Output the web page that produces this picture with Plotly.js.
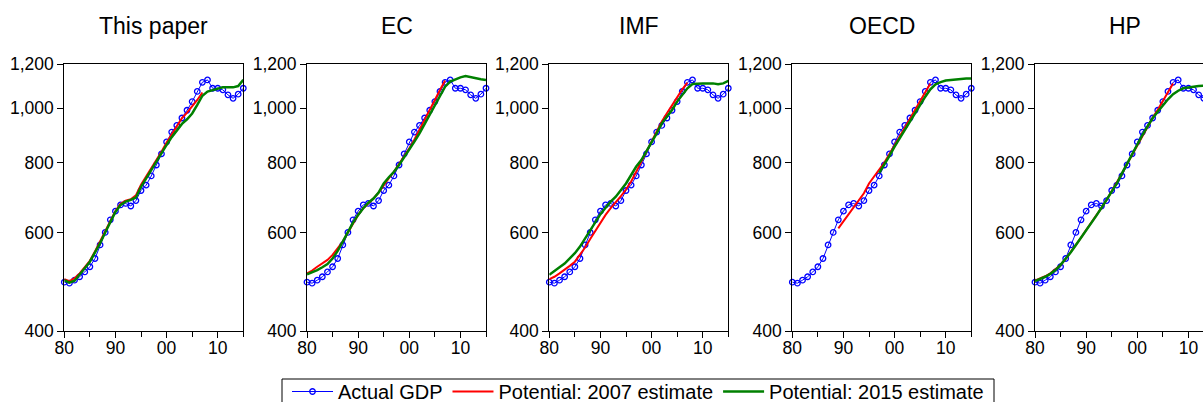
<!DOCTYPE html>
<html>
<head>
<meta charset="utf-8">
<script src="https://cdn.plot.ly/plotly-3.0.1.min.js"></script>
<style>
html, body { margin: 0; padding: 0; overflow: hidden; background: #fff; }
#chart { width: 1276px; height: 402px; }
</style>
</head>
<body>
<div id="chart"></div>
<script>
// ---------- data ----------
const panelTitles = ["This paper", "EC", "IMF", "OECD", "HP"];
const seriesNames = ["Actual GDP", "Potential: 2007 estimate", "Potential: 2015 estimate"];

const years = [1980,1981,1982,1983,1984,1985,1986,1987,1988,1989,
               1990,1991,1992,1993,1994,1995,1996,1997,1998,1999,
               2000,2001,2002,2003,2004,2005,2006,2007,2008,2009,
               2010,2011,2012,2013,2014,2015];
const years2007 = [1980,1981,1982,1983,1984,1985,1986,1987,1988,1989,
                   1990,1991,1992,1993,1994,1995,1996,1997,1998,1999,
                   2000,2001,2002,2003,2004,2005,2006,2007];
const yearsOecd2007 = [1989,1990,1991,1992,1993,1994,1995,1996,1997,1998,
                       1999,2000,2001,2002,2003,2004,2005,2006,2007];
const yearsOecd2015 = [1997,1998,1999,2000,2001,2002,2003,2004,2005,2006,
                       2007,2008,2009,2010,2011,2012,2013,2014,2015];

const actualGDP = [489,487,493,500,510,521,539,570,600,632,
                   655,672,676,669,684,713,729,757,792,829,
                   871,907,932,961,992,1028,1072,1113,1124,1086,
                   1086,1079,1057,1042,1060,1086];

const paper2007 = [495,491,497,507,520,534,555,578,604,630,
                   655,675,684,688,699,730,755,781,808,836,
                   869,900,930,960,982,1007,1035,1067];
const paper2015 = [493,488,492,504,518,532,551,574,600,628,
                   653,672,681,686,693,724,750,776,803,831,
                   860,888,915,938,956,979,1014,1053,1071,1078,
                   1086,1090,1090,1090,1096,1124];

const ec2007 = [507,513,521,528,536,547,561,578,600,623,
                645,663,676,690,707,729,750,770,794,820,
                848,880,915,953,993,1035,1078,1121];
const ec2015 = [505,509,514,520,527,539,556,578,602,625,
                645,663,678,690,707,734,753,770,792,817,
                844,872,902,938,973,1010,1052,1093,1116,1127,
                1136,1142,1136,1131,1127,1124];

const imf2007 = [495,500,507,514,523,532,547,564,584,604,
                 625,645,663,679,697,716,740,770,803,837,
                 872,908,947,980,1014,1049,1081,1111];
const imf2015 = [504,511,520,528,539,551,566,586,606,627,
                 647,664,681,695,714,734,760,787,808,837,
                 866,902,940,966,993,1028,1057,1086,1105,1108,
                 1108,1108,1108,1104,1108,1119];

const oecd2007 = [610,628,645,664,684,705,734,755,776,800,
                  829,860,890,925,960,993,1028,1068,1108];
const oecd2015 = [767,792,822,854,884,915,947,980,1014,1049,
                  1081,1104,1114,1121,1124,1127,1128,1130,1130];

const hp2007 = [492,496,501,507,515,525,538,553,569,587,
                606,624,643,664,686,710,735,765,795,826,
                860,896,930,962,994,1032,1070,1108];
const hp2015 = [491,495,500,506,514,525,538,553,570,587,
                606,625,643,664,686,710,734,765,797,829,
                863,896,928,960,986,1014,1038,1060,1075,1086,
                1091,1093,1096,1098,1099,1101];

const yTickVals = [400, 600, 800, 1000, 1200];
const yTickText = ["400", "600", "800", "1,000", "1,200"];
const xTickVals = [1980, 1990, 2000, 2010];
const xTickText = ["80", "90", "00", "10"];
const xMinorVals = [1985, 1995, 2005, 2015];

// ---------- layout geometry (pixels) ----------
const FIG_W = 1276, FIG_H = 402;
const plotTop = 64, plotBottom = 331;
const panelLeft = [64.3, 307, 549.3, 792.3, 1035];
const panelWidth = 179;
const legendBox = {left: 282, right: 994, top: 379, bottom: 412};
const legendTextTop = 372;

const panels = [
  {x07: years2007, y07: paper2007, x15: years, y15: paper2015},
  {x07: years2007, y07: ec2007, x15: years, y15: ec2015},
  {x07: years2007, y07: imf2007, x15: years, y15: imf2015},
  {x07: yearsOecd2007, y07: oecd2007, x15: yearsOecd2015, y15: oecd2015},
  {x07: years2007, y07: hp2007, x15: years, y15: hp2015}
];

const FONT = "Arial, 'Liberation Sans', sans-serif";
const plotH = plotBottom - plotTop;
const pxToPaperY = py => (plotBottom - py) / plotH;
const traces = [];
const layout = {
  width: FIG_W, height: FIG_H,
  margin: {l: 0, r: 0, t: plotTop, b: FIG_H - plotBottom, autoexpand: false},
  paper_bgcolor: "#fff", plot_bgcolor: "#fff",
  font: {family: FONT, color: "#000"},
  showlegend: true,
  legend: {
    orientation: "h", x: 0.5, xanchor: "center",
    y: pxToPaperY(legendTextTop), yanchor: "top",
    borderwidth: 0, bgcolor: "rgba(0,0,0,0)",
    font: {size: 20, family: FONT, color: "#000"},
    itemwidth: 41, traceorder: "normal"
  },
  shapes: [{
    type: "rect", xref: "paper", yref: "paper", layer: "below",
    x0: legendBox.left / FIG_W, x1: legendBox.right / FIG_W,
    y0: pxToPaperY(legendBox.top), y1: pxToPaperY(legendBox.bottom),
    line: {color: "#000", width: 1}, fillcolor: "#fff"
  }],
  annotations: []
};

panels.forEach((p, i) => {
  const n = i + 1;
  const xa = n === 1 ? "x" : "x" + n;
  const ya = n === 1 ? "y" : "y" + n;
  traces.push({
    x: years, y: actualGDP, xaxis: xa, yaxis: ya, type: "scatter",
    mode: "lines+markers", name: seriesNames[0], showlegend: i === 0,
    line: {color: "#0000FF", width: 1},
    marker: {symbol: "circle-open", size: 5.5, color: "#0000FF", line: {width: 1.3, color: "#0000FF"}},
    cliponaxis: false
  });
  traces.push({
    x: p.x07, y: p.y07, xaxis: xa, yaxis: ya, type: "scatter",
    mode: "lines", name: seriesNames[1], showlegend: i === 0,
    line: {color: "#FF0000", width: 2}
  });
  traces.push({
    x: p.x15, y: p.y15, xaxis: xa, yaxis: ya, type: "scatter",
    mode: "lines", name: seriesNames[2], showlegend: i === 0,
    line: {color: "#008000", width: 2.5}
  });
  const d0 = panelLeft[i] / FIG_W, d1 = (panelLeft[i] + panelWidth) / FIG_W;
  layout["xaxis" + (n === 1 ? "" : n)] = {
    domain: [d0, d1], anchor: ya, range: [1980, 2015],
    tickvals: xTickVals, ticktext: xTickText,
    ticks: "outside", ticklen: 6, tickwidth: 1, tickcolor: "#000",
    minor: {tickvals: xMinorVals, ticks: "outside", ticklen: 5, tickwidth: 1, tickcolor: "#000"},
    showline: true, mirror: true, linecolor: "#000", linewidth: 1,
    showgrid: false, zeroline: false, ticklabelstandoff: -5,
    tickfont: {size: 17.5, family: FONT, color: "#000"}
  };
  layout["yaxis" + (n === 1 ? "" : n)] = {
    domain: [0, 1], anchor: xa, type: "log",
    range: [Math.log10(400), Math.log10(1200)],
    tickvals: yTickVals, ticktext: yTickText,
    ticks: "outside", ticklen: 6, tickwidth: 1, tickcolor: "#000",
    showline: true, mirror: true, linecolor: "#000", linewidth: 1,
    showgrid: false, zeroline: false,
    tickfont: {size: 17.5, family: FONT, color: "#000"}
  };
  layout.annotations.push({
    text: panelTitles[i], xref: "paper", yref: "paper",
    x: (d0 + d1) / 2, xanchor: "center",
    y: pxToPaperY(26), yanchor: "middle",
    showarrow: false, font: {size: 23, family: FONT, color: "#000"}
  });
});

Plotly.newPlot("chart", traces, layout, {displayModeBar: false, staticPlot: true});
</script>
</body>
</html>
